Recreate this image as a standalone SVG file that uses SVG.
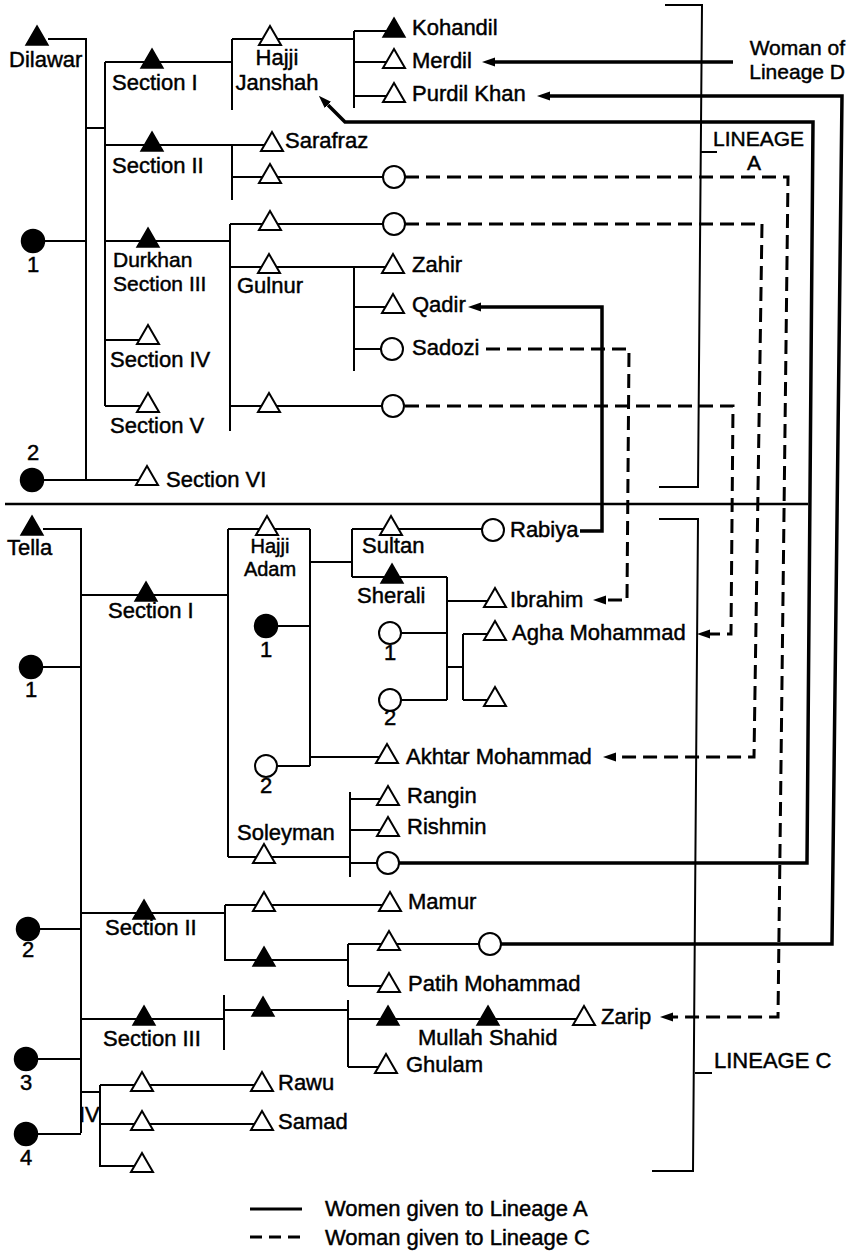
<svg xmlns="http://www.w3.org/2000/svg" width="854" height="1253" viewBox="0 0 854 1253">
<style>
.ln{fill:none;stroke:#000;stroke-width:2}
.tk{fill:none;stroke:#000;stroke-width:3.5}
.ds{fill:none;stroke:#000;stroke-width:3;stroke-dasharray:14 7}
.op{fill:#fff;stroke:#000;stroke-width:2}
.fl{fill:#000;stroke:#000;stroke-width:1.5}
text{font-family:"Liberation Sans",Arial,sans-serif;font-size:22px;fill:#000;stroke:#000;stroke-width:0.45}
.s{font-size:21px}
.xs{font-size:20px}
.m{text-anchor:middle}
.e{text-anchor:end}
</style>
<defs>
<path id="tri" d="M0,-13 L11,6 L-11,6 Z"/>
<marker id="ah" viewBox="0 -5 13 10" refX="0" refY="0" markerWidth="13" markerHeight="10" markerUnits="userSpaceOnUse" orient="auto">
<path d="M0,-4.5 L13,0 L0,4.5 Z" fill="#000"/>
</marker>
</defs>
<rect x="0" y="0" width="854" height="1253" fill="#fff"/>

<g id="connectors">
<!-- Lineage A -->
<path class="ln" d="M48,39 H86 V479"/>
<path class="ln" d="M44,241 H86"/>
<path class="ln" d="M43,480 H147"/>
<path class="ln" d="M86,128 H105"/>
<path class="ln" d="M105,62 V406"/>
<path class="ln" d="M105,62 H232"/>
<path class="ln" d="M232,39 V110"/>
<path class="ln" d="M232,39 H354"/>
<path class="ln" d="M354,31 V108"/>
<path class="ln" d="M354,31 H394 M354,62 H394 M354,96 H394"/>
<path class="ln" d="M105,145 H272"/>
<path class="ln" d="M232,145 V200"/>
<path class="ln" d="M232,177 H394"/>
<path class="ln" d="M105,241 H230"/>
<path class="ln" d="M230,224 V431"/>
<path class="ln" d="M230,224 H394"/>
<path class="ln" d="M230,267 H354"/>
<path class="ln" d="M354,267 V371"/>
<path class="ln" d="M354,267 H393 M354,307 H393 M354,349 H392"/>
<path class="ln" d="M105,340 H148"/>
<path class="ln" d="M105,406 H148"/>
<path class="ln" d="M230,406 H394"/>
<!-- brackets and separator -->
<path class="ln" d="M665,5 H702 L698,487 H659"/>
<path class="ln" d="M701,152 H717"/>
<path class="ln" d="M5,504 H808" style="stroke-width:2.6"/>
<path class="ln" d="M659,519 H698 L693,1171 H652"/>
<path class="ln" d="M695,1073 H712"/>
<!-- Lineage C -->
<path class="ln" d="M43,529 H81 V1133"/>
<path class="ln" d="M43,667 H81"/>
<path class="ln" d="M39,929 H81"/>
<path class="ln" d="M37,1059 H81"/>
<path class="ln" d="M37,1134 H81"/>
<path class="ln" d="M81,595 H228"/>
<path class="ln" d="M228,529 V857"/>
<path class="ln" d="M228,529 H310"/>
<path class="ln" d="M310,529 V766"/>
<path class="ln" d="M310,562 H352"/>
<path class="ln" d="M352,529 V577"/>
<path class="ln" d="M352,529 H493"/>
<path class="ln" d="M352,577 H447"/>
<path class="ln" d="M447,577 V700"/>
<path class="ln" d="M447,601 H495"/>
<path class="ln" d="M401,633 H447 M401,700 H447"/>
<path class="ln" d="M447,667 H463"/>
<path class="ln" d="M463,634 V700"/>
<path class="ln" d="M463,634 H495 M463,700 H495"/>
<path class="ln" d="M277,626 H310"/>
<path class="ln" d="M277,766 H310"/>
<path class="ln" d="M310,757 H387"/>
<path class="ln" d="M228,857 H350"/>
<path class="ln" d="M350,792 V877"/>
<path class="ln" d="M350,799 H388 M350,830 H388 M350,863 H388"/>
<path class="ln" d="M81,913 H225"/>
<path class="ln" d="M225,905 V961"/>
<path class="ln" d="M225,905 H390"/>
<path class="ln" d="M225,960 H348"/>
<path class="ln" d="M348,944 V986"/>
<path class="ln" d="M348,944 H490"/>
<path class="ln" d="M348,986 H389"/>
<path class="ln" d="M81,1019 H224"/>
<path class="ln" d="M224,995 V1050"/>
<path class="ln" d="M224,1010 H348"/>
<path class="ln" d="M348,1000 V1067"/>
<path class="ln" d="M348,1019 H584"/>
<path class="ln" d="M348,1067 H386"/>
<path class="ln" d="M81,1092 H100"/>
<path class="ln" d="M100,1085 V1167"/>
<path class="ln" d="M100,1085 H262 M100,1124 H262 M100,1166 H142"/>
<!-- marriage exchanges: solid -->
<path class="tk" d="M733,62 H495" marker-end="url(#ah)"/>
<path class="tk" d="M501,944 H832 L842,96 H550" marker-end="url(#ah)"/>
<path class="tk" d="M399,863 H807 L813,122 H345 L328,105" marker-end="url(#ah)"/>
<path class="tk" d="M580,531 H602 V307 H481" marker-end="url(#ah)"/>
<!-- marriage exchanges: dashed -->
<path class="ds" d="M405,177 H788 L778,1017 H673" marker-end="url(#ah)"/>
<path class="ds" d="M405,224 H762 L754,757 H616" marker-end="url(#ah)"/>
<path class="ds" d="M486,349 H629 L627,600 H606" marker-end="url(#ah)"/>
<path class="ds" d="M405,406 H733 L731,634 H710" marker-end="url(#ah)"/>
</g>

<!-- Lineage A nodes -->
<g id="n-dilawar"><use href="#tri" x="37" y="39" class="fl"/><text x="9" y="67">Dilawar</text></g>
<g id="n-a-wife1"><circle cx="33" cy="241" r="11.5" class="fl"/><text x="33" y="272" class="m">1</text></g>
<g id="n-a-wife2"><circle cx="32" cy="480" r="11.5" class="fl"/><text x="33" y="460" class="m">2</text></g>
<g id="n-a-sec1"><use href="#tri" x="152" y="62" class="fl"/><text x="112" y="90">Section I</text></g>
<g id="n-a-sec2"><use href="#tri" x="152" y="145" class="fl"/><text x="112" y="173">Section II</text></g>
<g id="n-a-sec3"><use href="#tri" x="148" y="241" class="fl"/><text x="113" y="267" class="s">Durkhan</text><text x="113" y="291" class="s">Section III</text></g>
<g id="n-a-sec4"><use href="#tri" x="148" y="338" class="op"/><text x="110" y="367">Section IV</text></g>
<g id="n-a-sec5"><use href="#tri" x="148" y="406" class="op"/><text x="110" y="433">Section V</text></g>
<g id="n-a-sec6"><use href="#tri" x="147" y="479" class="op"/><text x="166" y="487">Section VI</text></g>
<g id="n-janshah"><use href="#tri" x="270" y="39" class="op"/><text x="277" y="65" class="m">Hajji</text><text x="277" y="90" class="m">Janshah</text></g>
<g id="n-kohandil"><use href="#tri" x="394" y="31" class="fl"/><text x="412" y="35">Kohandil</text></g>
<g id="n-merdil"><use href="#tri" x="394" y="62" class="op"/><text x="412" y="68">Merdil</text></g>
<g id="n-purdil"><use href="#tri" x="394" y="96" class="op"/><text x="412" y="101">Purdil Khan</text></g>
<g id="n-sarafraz"><use href="#tri" x="272" y="145" class="op"/><text x="285" y="148">Sarafraz</text></g>
<g id="n-a-s2-son"><use href="#tri" x="270" y="177" class="op"/></g>
<g id="n-a-s2-dau"><circle cx="394" cy="177" r="11" class="op"/></g>
<g id="n-a-s3-son"><use href="#tri" x="270" y="224" class="op"/></g>
<g id="n-a-s3-dau"><circle cx="394" cy="224" r="11" class="op"/></g>
<g id="n-gulnur"><use href="#tri" x="269" y="267" class="op"/><text x="237" y="293">Gulnur</text></g>
<g id="n-zahir"><use href="#tri" x="393" y="267" class="op"/><text x="412" y="272">Zahir</text></g>
<g id="n-qadir"><use href="#tri" x="393" y="307" class="op"/><text x="412" y="312">Qadir</text></g>
<g id="n-sadozi"><circle cx="392" cy="349" r="11" class="op"/><text x="412" y="355">Sadozi</text></g>
<g id="n-a-s5-son"><use href="#tri" x="269" y="406" class="op"/></g>
<g id="n-a-s5-dau"><circle cx="393" cy="406" r="11" class="op"/></g>
<g id="n-woman-d"><text x="845" y="55" class="e s">Woman of</text><text x="845" y="79" class="e s">Lineage D</text></g>
<g id="n-lineage-a"><text x="713" y="146" class="s">LINEAGE</text><text x="754" y="170" class="m s">A</text></g>

<!-- Lineage C nodes -->
<g id="n-tella"><use href="#tri" x="32" y="529" class="fl"/><text x="7" y="555">Tella</text></g>
<g id="n-c-wife1"><circle cx="31" cy="667" r="11.5" class="fl"/><text x="31" y="697" class="m">1</text></g>
<g id="n-c-wife2"><circle cx="28" cy="929" r="11.5" class="fl"/><text x="28" y="957" class="m">2</text></g>
<g id="n-c-wife3"><circle cx="26" cy="1059" r="11.5" class="fl"/><text x="26" y="1090" class="m">3</text></g>
<g id="n-c-wife4"><circle cx="26" cy="1134" r="11.5" class="fl"/><text x="26" y="1165" class="m">4</text></g>
<g id="n-c-sec1"><use href="#tri" x="146" y="595" class="fl"/><text x="108" y="618">Section I</text></g>
<g id="n-hajjiadam"><use href="#tri" x="267" y="529" class="op"/><text x="270" y="553" class="m xs">Hajji</text><text x="270" y="576" class="m xs">Adam</text></g>
<g id="n-adam-wife1"><circle cx="266" cy="626" r="11.5" class="fl"/><text x="266" y="657" class="m">1</text></g>
<g id="n-adam-wife2"><circle cx="266" cy="766" r="11" class="op"/><text x="266" y="793" class="m">2</text></g>
<g id="n-sultan"><use href="#tri" x="391" y="529" class="op"/><text x="362" y="553">Sultan</text></g>
<g id="n-rabiya"><circle cx="493" cy="530" r="11" class="op"/><text x="510" y="537">Rabiya</text></g>
<g id="n-sherali"><use href="#tri" x="392" y="577" class="fl"/><text x="357" y="603">Sherali</text></g>
<g id="n-sherali-wife1"><circle cx="390" cy="633" r="11" class="op"/><text x="390" y="660" class="m">1</text></g>
<g id="n-sherali-wife2"><circle cx="390" cy="700" r="11" class="op"/><text x="390" y="725" class="m">2</text></g>
<g id="n-ibrahim"><use href="#tri" x="495" y="601" class="op"/><text x="510" y="607">Ibrahim</text></g>
<g id="n-agha"><use href="#tri" x="495" y="634" class="op"/><text x="512" y="640">Agha Mohammad</text></g>
<g id="n-sherali-son"><use href="#tri" x="495" y="700" class="op"/></g>
<g id="n-akhtar"><use href="#tri" x="387" y="757" class="op"/><text x="406" y="764">Akhtar Mohammad</text></g>
<g id="n-soleyman"><use href="#tri" x="264" y="857" class="op"/><text x="237" y="840">Soleyman</text></g>
<g id="n-rangin"><use href="#tri" x="388" y="799" class="op"/><text x="407" y="803">Rangin</text></g>
<g id="n-rishmin"><use href="#tri" x="388" y="830" class="op"/><text x="407" y="834">Rishmin</text></g>
<g id="n-soleyman-dau"><circle cx="388" cy="863" r="11" class="op"/></g>
<g id="n-c-sec2"><use href="#tri" x="144" y="913" class="fl"/><text x="105" y="935">Section II</text></g>
<g id="n-c-s2-son1"><use href="#tri" x="264" y="905" class="op"/></g>
<g id="n-mamur"><use href="#tri" x="390" y="905" class="op"/><text x="408" y="909">Mamur</text></g>
<g id="n-c-s2-son2"><use href="#tri" x="264" y="960" class="fl"/></g>
<g id="n-c-s2-gson"><use href="#tri" x="389" y="944" class="op"/></g>
<g id="n-c-s2-dau"><circle cx="490" cy="944" r="11" class="op"/></g>
<g id="n-patih"><use href="#tri" x="389" y="986" class="op"/><text x="408" y="991">Patih Mohammad</text></g>
<g id="n-c-sec3"><use href="#tri" x="144" y="1019" class="fl"/><text x="103" y="1046">Section III</text></g>
<g id="n-c-s3-son"><use href="#tri" x="263" y="1010" class="fl"/></g>
<g id="n-c-s3-gson"><use href="#tri" x="388" y="1019" class="fl"/></g>
<g id="n-mullah"><use href="#tri" x="488" y="1019" class="fl"/><text x="418" y="1045">Mullah Shahid</text></g>
<g id="n-zarip"><use href="#tri" x="584" y="1019" class="op"/><text x="601" y="1024">Zarip</text></g>
<g id="n-ghulam"><use href="#tri" x="386" y="1067" class="op"/><text x="406" y="1072">Ghulam</text></g>
<g id="n-c-sec4"><text x="79" y="1122">IV</text></g>
<g id="n-c-s4-son1"><use href="#tri" x="142" y="1085" class="op"/></g>
<g id="n-rawu"><use href="#tri" x="262" y="1085" class="op"/><text x="278" y="1090">Rawu</text></g>
<g id="n-c-s4-son2"><use href="#tri" x="142" y="1124" class="op"/></g>
<g id="n-samad"><use href="#tri" x="262" y="1124" class="op"/><text x="278" y="1129">Samad</text></g>
<g id="n-c-s4-son3"><use href="#tri" x="142" y="1166" class="op"/></g>
<g id="n-lineage-c"><text x="714" y="1068">LINEAGE C</text></g>

<g id="legend">
<path class="tk" d="M250,1209 H302" style="stroke-width:3"/>
<text x="325" y="1216">Women given to Lineage A</text>
<path class="ds" d="M250,1237 H302" style="stroke-dasharray:12 7"/>
<text x="325" y="1245">Woman given to Lineage C</text>
</g>
</svg>
